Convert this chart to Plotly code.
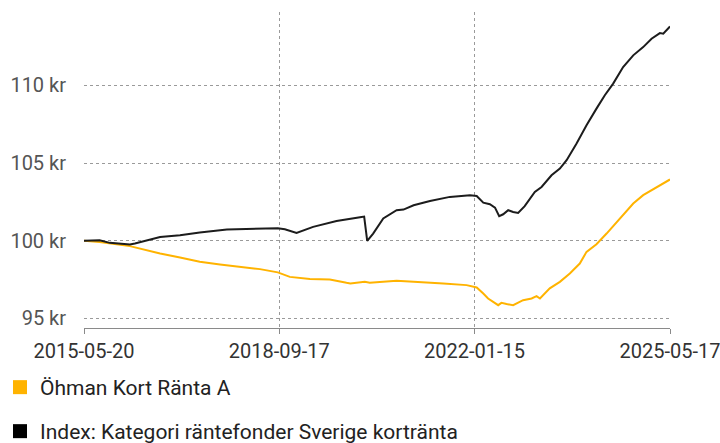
import plotly.graph_objects as go

# ---- data ----
fund_dates = ["2015-05-20","2015-08-25","2016-03-01","2016-09-05","2017-01-07","2017-05-10",
              "2017-09-13","2018-01-15","2018-05-20","2018-09-08","2018-11-22","2019-03-27",
              "2019-07-29","2019-11-10","2019-12-04","2020-03-03","2020-04-03","2020-09-17",
              "2021-02-10","2021-07-05","2021-11-27","2022-01-29","2022-03-11","2022-04-10",
              "2022-06-12","2022-07-02","2022-08-03","2022-09-13","2022-11-14","2023-01-06",
              "2023-02-06","2023-02-27","2023-04-29","2023-07-01","2023-09-01","2023-11-02",
              "2023-12-14","2024-02-14","2024-04-17","2024-07-09","2024-09-30","2024-12-01",
              "2025-02-23","2025-05-17"]
fund_values = [100.0,99.92,99.65,99.18,98.92,98.64,
               98.47,98.32,98.17,97.96,97.67,97.54,
               97.5,97.29,97.25,97.35,97.29,97.42,
               97.35,97.25,97.14,96.99,96.6,96.28,
               95.85,96.0,95.92,95.85,96.17,96.28,
               96.43,96.28,96.93,97.35,97.89,98.53,
               99.28,99.77,100.46,101.43,102.39,102.93,
               103.46,103.94]

index_dates = ["2015-05-20","2015-08-25","2015-10-28","2016-03-01","2016-04-01","2016-09-05",
               "2017-01-07","2017-05-10","2017-10-26","2018-04-05","2018-09-08","2018-10-22",
               "2019-01-03","2019-04-16","2019-09-09","2020-02-12","2020-02-28","2020-03-18",
               "2020-04-24","2020-06-26","2020-09-17","2020-10-30","2021-01-01","2021-04-13",
               "2021-08-15","2021-12-18","2022-01-29","2022-03-11","2022-04-21","2022-05-23",
               "2022-06-18","2022-07-13","2022-08-13","2022-09-13","2022-10-14","2022-11-24",
               "2023-01-26","2023-03-09","2023-05-10","2023-07-01","2023-08-12","2023-10-13",
               "2023-12-14","2024-02-14","2024-04-06","2024-05-28","2024-07-29","2024-09-30",
               "2024-12-01","2025-01-22","2025-03-15","2025-04-05","2025-05-17"]
index_values = [100.0,100.03,99.86,99.75,99.82,100.24,
                100.35,100.53,100.72,100.76,100.8,100.74,
                100.5,100.89,101.27,101.53,101.55,99.99,
                100.46,101.43,101.96,102.0,102.28,102.56,
                102.82,102.92,102.88,102.45,102.35,102.13,
                101.58,101.7,101.96,101.85,101.79,102.22,
                103.14,103.46,104.21,104.64,105.18,106.25,
                107.43,108.5,109.36,110.11,111.18,111.93,
                112.46,113.0,113.36,113.32,113.79]

fund_name = "Öhman Kort Ränta A"
index_name = "Index: Kategori räntefonder Sverige kortränta"

x_ticks = ["2015-05-20", "2018-09-17", "2022-01-15", "2025-05-17"]
y_ticks = [95, 100, 105, 110]
y_ticklabels = ["95 kr", "100 kr", "105 kr", "110 kr"]

YELLOW = "#FFB300"
BLACK = "#1c1c1c"
FONT = "Roboto, Liberation Sans, sans-serif"
W, H = 720, 443

fig = go.Figure()
fig.add_trace(go.Scatter(x=fund_dates, y=fund_values, mode="lines",
                         line=dict(color=YELLOW, width=2), showlegend=False))
fig.add_trace(go.Scatter(x=index_dates, y=index_values, mode="lines",
                         line=dict(color=BLACK, width=2), showlegend=False))
# legend entries
fig.add_trace(go.Scatter(x=[None], y=[None], mode="markers", name=fund_name,
                         marker=dict(symbol="square", size=14, color=YELLOW), legend="legend"))
fig.add_trace(go.Scatter(x=[None], y=[None], mode="markers", name=index_name,
                         marker=dict(symbol="square", size=14, color="#000000"), legend="legend2"))

fig.update_layout(
    width=W, height=H,
    margin=dict(l=84, r=50, t=12, b=115, autoexpand=False),
    paper_bgcolor="white", plot_bgcolor="white",
    font=dict(family=FONT, size=20, color="#333"),
    legend=dict(xref="container", yref="container", x=0, y=1 - 367 / H,
                xanchor="left", yanchor="top", font=dict(size=21, color="#222"),
                itemwidth=30, bgcolor="rgba(0,0,0,0)"),
    legend2=dict(xref="container", yref="container", x=0, y=1 - 411 / H,
                 xanchor="left", yanchor="top", font=dict(size=21, color="#222"),
                 itemwidth=30, bgcolor="rgba(0,0,0,0)"),
    xaxis=dict(type="date", range=["2015-05-20", "2025-05-17"],
               tickmode="array", tickvals=x_ticks, ticktext=x_ticks, tickangle=0,
               ticklabeloverflow="allow",
               showgrid=True, gridcolor="#9a9a9a", griddash="3px,3px", gridwidth=1,
               showline=True, linecolor="#8a8a8a", linewidth=1,
               ticks="outside", ticklen=5, tickcolor="#8a8a8a",
               tickfont=dict(size=20, color="#333"), zeroline=False),
    yaxis=dict(range=[94.38, 114.72], tickmode="array", tickvals=y_ticks,
               ticktext=y_ticklabels, showgrid=True, gridcolor="#9a9a9a",
               griddash="3px,3px", gridwidth=1, showline=False, zeroline=False,
               ticks="", ticklabelstandoff=17,
               tickfont=dict(size=20, color="#555")),
)

fig.write_html("out.html", config={"displayModeBar": False},
               post_script="document.body.style.margin='0';document.body.style.overflow='hidden';")
